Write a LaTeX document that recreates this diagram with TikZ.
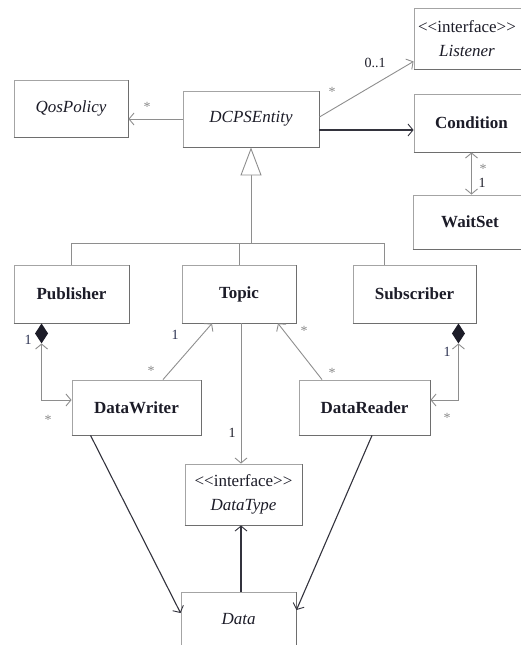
\documentclass[tikz,border=0pt]{standalone}
\usepackage{fontspec}
\setmainfont{Liberation Serif}
\usetikzlibrary{arrows.meta,calc}
\definecolor{lg}{HTML}{8E8E8E}
\definecolor{bx}{HTML}{A4A4A4}
\definecolor{bxd}{HTML}{6E6E6E}
\definecolor{tx}{HTML}{1C1C28}
\definecolor{nv}{HTML}{2A3050}
\definecolor{st}{HTML}{8A8A8A}
\tikzset{
 cls/.style={draw=bx, line width=0.9pt, fill=white, inner sep=0pt, align=center, text=tx, font=\fontsize{17}{24}\selectfont},
 bcls/.style={cls, font=\fontsize{17}{24}\selectfont\bfseries},
 icls/.style={cls, font=\fontsize{17}{24}\selectfont\itshape},
 ua/.tip={Straight Barb[length=5pt,width=12pt,line width=0.9pt]},
 gl/.style={draw=lg, line width=0.9pt},
 dl/.style={draw=tx!90, line width=1.1pt},
 mult/.style={font=\fontsize{14}{14}\selectfont, inner sep=0pt},
 star/.style={mult, text=st, yshift=-3pt},
 one/.style={mult, text=nv},
}
\begin{document}
\begin{tikzpicture}[x=1pt,y=-1pt]
\useasboundingbox (0,0) rectangle (521,645);
\clip (0,0) rectangle (521,645);
% classes
\node[cls, minimum width=122pt, minimum height=61pt] (lis) at (475,38.5) {{<}{<}interface{>}{>}\hspace*{16pt}\\\textit{Listener}\hspace*{16pt}};
\node[bcls, minimum width=115pt, minimum height=58pt] (cond) at (471.5,123) {Condition};
\node[bcls, minimum width=114pt, minimum height=54pt] (wait) at (470,222) {WaitSet};
\node[icls, minimum width=114pt, minimum height=57pt] (qos) at (71,108.5) {QosPolicy};
\node[icls, minimum width=136pt, minimum height=56pt] (dcps) at (251,119) {DCPSEntity};
\node[bcls, minimum width=115pt, minimum height=58pt] (pub) at (71.5,294) {Publisher};
\node[bcls, minimum width=114pt, minimum height=58pt] (topic) at (239,294) {Topic};
\node[bcls, minimum width=123pt, minimum height=58pt] (sub) at (414.5,294) {Subscriber};
\node[bcls, minimum width=129pt, minimum height=55pt] (dw) at (136.5,407.5) {DataWriter};
\node[bcls, minimum width=131pt, minimum height=55pt] (dr) at (364.5,407.5) {DataReader};
\node[cls, minimum width=117pt, minimum height=61pt] (dt) at (243.5,494.5) {{<}{<}interface{>}{>}\\\textit{DataType}};
\node[icls, minimum width=115pt, minimum height=68pt, text height=12pt, text depth=16pt] (data) at (238.5,626) {Data};
\foreach \n in {lis,cond,wait,qos,dcps,pub,topic,sub,dw,dr,dt,data}
  \draw[bxd, line width=1.1pt] (\n.south west) -- (\n.south east) -- (\n.north east);
% associations from DCPSEntity
\draw[gl, -ua] (dcps.west) -- (qos.east |- dcps.west);
\draw[gl, -ua] ([yshift=2pt]dcps.east) -- ([yshift=8pt]lis.south west);
\draw[dl, -ua] ([yshift=-11pt]dcps.east) coordinate (dc) -- (dc -| cond.west);
\draw[gl, ua-ua] (cond.south) -- (cond.south |- wait.north);
% generalization
\coordinate (J) at (dcps.south |- 0,243);
\draw[gl, -{Triangle[open,length=28pt,width=21pt,fill=white]}] (J) -- (dcps.south);
\draw[gl] (pub.north) -- (pub.north |- J) -- ([xshift=-30.5pt]sub.north |- J) -- ([xshift=-30.5pt]sub.north);
\draw[gl] (topic.north) -- (topic.north |- J);
% compositions
\coordinate (pd) at ([xshift=28pt]pub.south west);
\coordinate (pdb) at ([yshift=-20pt]pd);
\fill[tx] (pd) -- ++(6.5,10) -- ++(-6.5,10) -- ++(-6.5,-10) -- cycle;
\draw[gl, ua-ua] (pdb) |- ([yshift=7.5pt]dw.west);
\coordinate (sd) at ([xshift=-18pt]sub.south east);
\coordinate (sdb) at ([yshift=-20pt]sd);
\fill[tx] (sd) -- ++(6.5,10) -- ++(-6.5,10) -- ++(-6.5,-10) -- cycle;
\draw[gl, ua-ua] (sdb) |- ([yshift=7.5pt]dr.east);
% topic links
\draw[gl, -ua] ([xshift=26.5pt]dw.north) -- ([xshift=-27pt]topic.south);
\draw[gl, -ua] ([xshift=-42.5pt]dr.north) -- ([xshift=39pt]topic.south);
\draw[gl, -ua] ([xshift=2pt]topic.south) -- ([xshift=2pt]topic.south |- dt.north);
% data links
\draw[dl, -ua] ([xshift=19pt]dw.south west) -- ([yshift=13pt]data.west);
\draw[dl, -ua] ([xshift=7.5pt]dr.south) -- ([yshift=16pt]data.east);
\draw[dl, -ua] ([xshift=-2.5pt]dt.south |- data.north) -- ([xshift=-2.5pt]dt.south);
% multiplicities
\node[star] (m1) at (147,104) {*};
\node[star] (m2) at (332,89) {*};
\node[mult, text=tx] (m3) at (375,63) {0..1};
\node[star] (m4) at (483,166) {*};
\node[mult, text=tx] (m5) at (482,183) {1};
\node[one] (m6) at (28,340) {1};
\node[star] (m7) at (48,417) {*};
\node[one] (m8) at (447,352) {1};
\node[star] (m9) at (447,415) {*};
\node[one] (m10) at (175,335) {1};
\node[star] (m11) at (151,368) {*};
\node[star] (m12) at (304,328) {*};
\node[star] (m13) at (332,370) {*};
\node[mult, text=tx] (m14) at (232,433) {1};
\end{tikzpicture}
\end{document}
